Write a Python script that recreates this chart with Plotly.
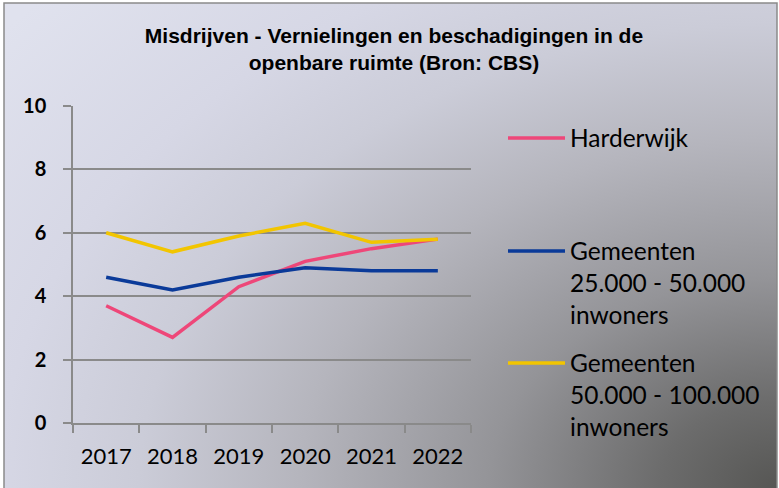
import base64
import plotly.graph_objects as go

years = ["2017", "2018", "2019", "2020", "2021", "2022"]
harderwijk = [3.7, 2.7, 4.3, 5.1, 5.5, 5.8]
gem_25_50 = [4.6, 4.2, 4.6, 4.9, 4.8, 4.8]
gem_50_100 = [6.0, 5.4, 5.9, 6.3, 5.7, 5.8]

series_names = [
    "Harderwijk",
    "Gemeenten<br>25.000 - 50.000<br>inwoners",
    "Gemeenten<br>50.000 - 100.000<br>inwoners",
]
series_values = [harderwijk, gem_25_50, gem_50_100]
series_colors = ["#EE4779", "#0A3A99", "#F2C500"]

y_ticks = [0, 2, 4, 6, 8, 10]
title_text = "Misdrijven - Vernielingen en beschadigingen in de<br>openbare ruimte (Bron: CBS)"

W, H = 779, 488
L, R, T, B = 73, 308, 106, 65
PW, PH = W - L - R, H - T - B

svg = f'''<svg xmlns="http://www.w3.org/2000/svg" width="{W}" height="{H}" viewBox="0 0 {W} {H}">
<defs><radialGradient id="g" gradientUnits="userSpaceOnUse" cx="0" cy="0" r="1"
 gradientTransform="translate({W},{H}) scale(1000,725)">
<stop offset="0" stop-color="#565654"/>
<stop offset="0.12" stop-color="#6c6c6c"/>
<stop offset="0.29" stop-color="#949498"/>
<stop offset="0.48" stop-color="#b5b5bd"/>
<stop offset="0.64" stop-color="#cbccd8"/>
<stop offset="0.78" stop-color="#d6d7e5"/>
<stop offset="1" stop-color="#e0e2ee"/>
</radialGradient></defs>
<rect x="0" y="0" width="{W}" height="{H}" fill="#ffffff"/>
<rect x="4" y="3" width="{W-6}" height="{H+10}" fill="url(#g)" stroke="#8a8a8a" stroke-width="1.5"/>
</svg>'''
src = "data:image/svg+xml;base64," + base64.b64encode(svg.encode()).decode()

legend_ids = ["legend", "legend2", "legend3"]
legend_line_y = [138, 251, 363]

fig = go.Figure()
for name, vals, col, lid in zip(series_names, series_values, series_colors, legend_ids):
    fig.add_trace(go.Scatter(
        x=years, y=vals, mode="lines", name=name, legend=lid,
        line=dict(color=col, width=3.5),
        hoverinfo="skip",
    ))

legend_common = dict(
    xref="container", yref="container", x=503 / W, xanchor="left", yanchor="top",
    bgcolor="rgba(0,0,0,0)", font=dict(family="Lato", size=24.5, color="#000000"),
    valign="top", itemwidth=57,
)
legend_layouts = {}
for lid, ly in zip(legend_ids, legend_line_y):
    legend_layouts[lid] = dict(legend_common, y=1 - (ly - 22.5) / H)

fig.update_layout(
    width=W, height=H,
    margin=dict(l=L, r=R, t=T, b=B),
    paper_bgcolor="rgba(0,0,0,0)",
    plot_bgcolor="#ffffff",
    images=[dict(
        source=src, xref="paper", yref="paper",
        x=-L / PW, y=1 + T / PH, sizex=W / PW, sizey=H / PH,
        xanchor="left", yanchor="top", sizing="stretch", layer="below",
    )],
    title=dict(
        text=title_text, xref="container", yref="container",
        x=394 / W, xanchor="center", y=1 - 43 / H, yanchor="middle",
        font=dict(family="Liberation Sans", size=21, color="#000000", weight="bold"),
    ),
    showlegend=True,
    xaxis=dict(
        type="category", tickson="boundaries", ticks="outside", ticklen=8,
        tickcolor="#8a8a8a", tickwidth=1.5, showline=True, linecolor="#8a8a8a", linewidth=1.5,
        showgrid=False, range=[-0.5, 5.5],
        tickfont=dict(family="Lato", size=22, color="#000000"),
        ticklabelstandoff=13,
    ),
    yaxis=dict(
        range=[0, 10], tickvals=y_ticks, ticktext=[str(v) for v in y_ticks],
        ticks="outside", ticklen=8, tickcolor="#8a8a8a", tickwidth=1.5,
        showline=True, linecolor="#8a8a8a", linewidth=1.5,
        showgrid=True, gridcolor="#8a8a8a", gridwidth=1.5, zeroline=False,
        tickfont=dict(family="Lato", size=20, color="#000000", weight="bold"),
        ticklabelstandoff=13,
    ),
    **legend_layouts,
)

fig.write_html(
    "out.html",
    config={"displayModeBar": False},
    post_script="document.body.style.margin='0';document.body.style.overflow='hidden';",
)
